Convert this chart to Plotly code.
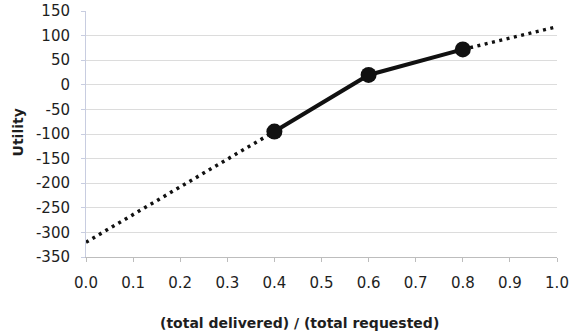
import plotly.graph_objects as go

# Data
x_points = [0.4, 0.6, 0.8]
y_points = [-95, 20, 72]
x_low = [0.0, 0.4]
y_low = [-320, -95]
x_high = [0.8, 1.0]
y_high = [72, 118]

x_ticks = [0.0, 0.1, 0.2, 0.3, 0.4, 0.5, 0.6, 0.7, 0.8, 0.9, 1.0]
x_ticklabels = ["0.0", "0.1", "0.2", "0.3", "0.4", "0.5", "0.6", "0.7", "0.8", "0.9", "1.0"]
y_ticks = [150, 100, 50, 0, -50, -100, -150, -200, -250, -300, -350]
y_ticklabels = ["150", "100", "50", "0", "-50", "-100", "-150", "-200", "-250", "-300", "-350"]

FONT = "'DejaVu Sans', sans-serif"
TXT = "#1e1e1e"

fig = go.Figure()
fig.add_trace(go.Scatter(x=x_low, y=y_low, mode="lines",
                         line=dict(color="#111", width=3.5, dash="3px,4.5px"),
                         hoverinfo="skip", showlegend=False))
fig.add_trace(go.Scatter(x=x_high, y=y_high, mode="lines",
                         line=dict(color="#111", width=3.5, dash="3px,4.5px"),
                         hoverinfo="skip", showlegend=False))
fig.add_trace(go.Scatter(x=x_points, y=y_points, mode="lines+markers",
                         line=dict(color="#111", width=4),
                         marker=dict(color="#111", size=16),
                         showlegend=False))

fig.update_layout(
    width=570, height=335,
    margin=dict(l=86, r=13, t=11, b=78, autoexpand=False),
    paper_bgcolor="white", plot_bgcolor="white",
    font=dict(family=FONT, size=15, color=TXT),
    xaxis=dict(range=[0, 1.0], tickvals=x_ticks, ticktext=x_ticklabels,
               showgrid=False, zeroline=False, automargin=False,
               showline=True, linecolor="#bdbdbd", linewidth=1,
               ticks="outside", ticklen=4, tickcolor="#bdbdbd",
               ticklabelstandoff=8,
               tickfont=dict(size=15, color=TXT)),
    yaxis=dict(range=[-350, 150], tickvals=y_ticks, ticktext=y_ticklabels,
               showgrid=True, gridcolor="#dcdcdc", gridwidth=1, zeroline=False,
               automargin=False,
               showline=True, linecolor="#c8cde0", linewidth=1,
               ticks="outside", ticklen=4, tickcolor="#c8cde0",
               ticklabelstandoff=8,
               tickfont=dict(size=15, color=TXT)),
    annotations=[
        dict(text="<b>(total delivered) / (total requested)</b>", xref="paper", yref="paper",
             x=0.454, y=-0.268, yanchor="middle", xanchor="center", showarrow=False,
             font=dict(size=14, color=TXT)),
        dict(text="<b>Utility</b>", xref="paper", yref="paper", textangle=-90,
             x=-0.1445, y=0.506, xanchor="center", yanchor="middle", showarrow=False,
             font=dict(size=14, color=TXT)),
    ],
)

fig.write_html("out.html",
               config={"displayModeBar": False},
               post_script="document.body.style.margin='0';document.body.style.overflow='hidden';")
